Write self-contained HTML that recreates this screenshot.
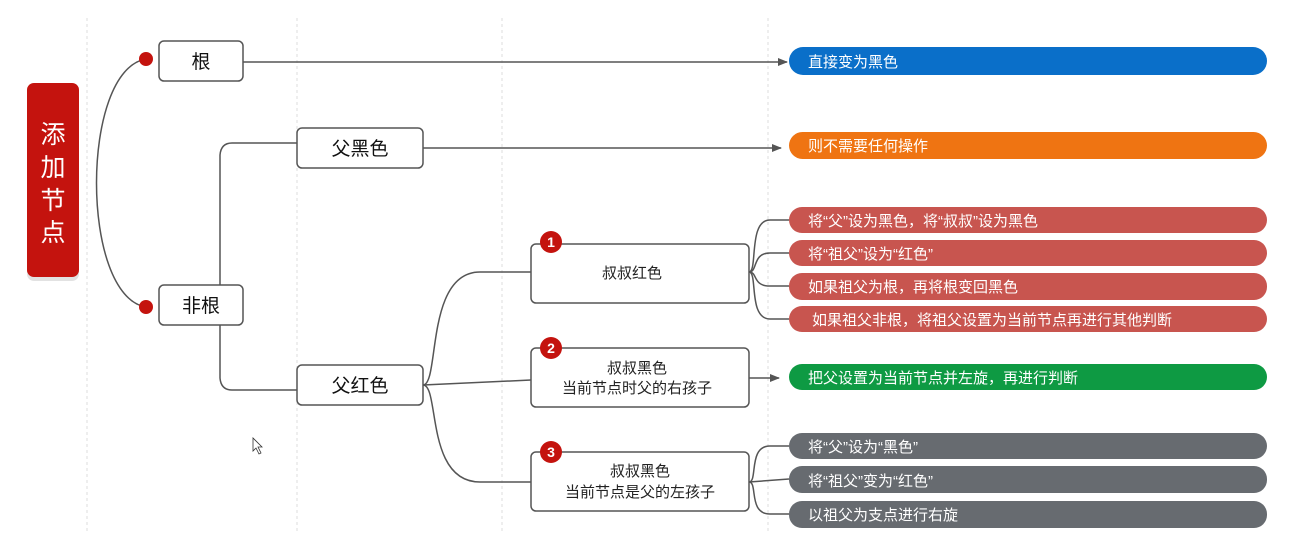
<!DOCTYPE html>
<html><head><meta charset="utf-8"><style>
html,body{margin:0;padding:0;background:#fff;}
svg{display:block;}
text{font-family:"Liberation Sans","Noto Sans CJK SC",sans-serif;}
</style></head><body>
<svg width="1310" height="533" viewBox="0 0 1310 533" xmlns="http://www.w3.org/2000/svg">
<defs>
<marker id="ar" markerWidth="10" markerHeight="8" refX="9" refY="4" orient="auto" markerUnits="userSpaceOnUse">
<path d="M0,0 L10,4 L0,8 Z" fill="#555"/></marker>
</defs>
<g stroke="#ddd" stroke-width="1" stroke-dasharray="3,3">
<line x1="87" y1="18" x2="87" y2="533"/>
<line x1="297" y1="18" x2="297" y2="533"/>
<line x1="502" y1="18" x2="502" y2="533"/>
<line x1="768" y1="18" x2="768" y2="533"/>
</g>
<!-- title -->
<rect x="27" y="87" width="52" height="194" rx="7" fill="#e2e2e2"/>
<rect x="27" y="83" width="52" height="194" rx="7" fill="#c4130e"/>
<g fill="#fff" font-size="25" text-anchor="middle">
<text x="53" y="143">添</text><text x="53" y="176">加</text><text x="53" y="209">节</text><text x="53" y="241">点</text>
</g>
<g fill="none" stroke="#555" stroke-width="1.5">
<path d="M146,59 C80,70 80,296 146,307"/>
<path d="M220,285 L220,155 Q221,143 232,143 L297,143"/>
<path d="M220,325 L220,378 Q221,390 232,390 L297,390"/>
<line x1="243" y1="62" x2="787" y2="62" marker-end="url(#ar)"/>
<line x1="423" y1="148" x2="781" y2="148" marker-end="url(#ar)"/>
<path d="M423,385 C440,385 425,272 480,272 L531,272"/>
<line x1="423" y1="385" x2="531" y2="380"/>
<path d="M423,385 C440,385 425,482 480,482 L531,482"/>
<line x1="749" y1="378" x2="779" y2="378" marker-end="url(#ar)"/>
<path d="M749,272 C758,272 748,220 770,220 L789,220"/>
<path d="M749,272 C758,272 752,253 770,253 L789,253"/>
<path d="M749,272 C758,272 752,286 770,286 L789,286"/>
<path d="M749,272 C758,272 748,319 770,319 L789,319"/>
<path d="M749,482 C758,482 748,446 770,446 L789,446"/>
<line x1="749" y1="482" x2="789" y2="479"/>
<path d="M749,482 C758,482 748,514 770,514 L789,514"/>
</g>
<circle cx="146" cy="59" r="7" fill="#c4130e"/>
<circle cx="146" cy="307" r="7" fill="#c4130e"/>
<g fill="#fff" stroke="#555" stroke-width="1.5">
<rect x="159" y="41" width="84" height="40" rx="5"/>
<rect x="159" y="285" width="84" height="40" rx="5"/>
<rect x="297" y="128" width="126" height="40" rx="5"/>
<rect x="297" y="365" width="126" height="40" rx="5"/>
<rect x="531" y="244" width="218" height="59" rx="5"/>
<rect x="531" y="348" width="218" height="59" rx="5"/>
<rect x="531" y="452" width="218" height="59" rx="5"/>
</g>
<g fill="#111" font-size="19" text-anchor="middle">
<text x="201" y="68">根</text>
<text x="201" y="312">非根</text>
<text x="360" y="155">父黑色</text>
<text x="360" y="392">父红色</text>
</g>
<g fill="#222" font-size="15" text-anchor="middle">
<text x="632" y="278">叔叔红色</text>
<text x="637" y="373">叔叔黑色</text>
<text x="637" y="393">当前节点时父的右孩子</text>
<text x="640" y="476">叔叔黑色</text>
<text x="640" y="497">当前节点是父的左孩子</text>
</g>
<g font-size="14" font-weight="bold" fill="#fff" text-anchor="middle">
<circle cx="551" cy="242" r="11" fill="#c4130e"/><text x="551" y="247">1</text>
<circle cx="551" cy="348" r="11" fill="#c4130e"/><text x="551" y="353">2</text>
<circle cx="551" cy="452" r="11" fill="#c4130e"/><text x="551" y="457">3</text>
</g>
<rect x="789" y="47" width="478" height="28" rx="14" fill="#0a6fc9"/>
<rect x="789" y="132" width="478" height="27" rx="13.5" fill="#ef7412"/>
<rect x="789" y="207" width="478" height="26" rx="13" fill="#c8554f"/>
<rect x="789" y="240" width="478" height="26" rx="13" fill="#c8554f"/>
<rect x="789" y="273" width="478" height="27" rx="13" fill="#c8554f"/>
<rect x="789" y="306" width="478" height="26" rx="13" fill="#c8554f"/>
<rect x="789" y="364" width="478" height="26" rx="13" fill="#0e9a43"/>
<rect x="789" y="433" width="478" height="26" rx="13" fill="#676b70"/>
<rect x="789" y="466" width="478" height="27" rx="13" fill="#676b70"/>
<rect x="789" y="501" width="478" height="27" rx="13" fill="#676b70"/>
<g fill="#fff" font-size="15">
<text x="808" y="67">直接变为黑色</text>
<text x="808" y="151">则不需要任何操作</text>
<text x="808" y="226">将“父”设为黑色，将“叔叔”设为黑色</text>
<text x="808" y="259">将“祖父”设为“红色”</text>
<text x="808" y="292">如果祖父为根，再将根变回黑色</text>
<text x="812" y="325">如果祖父非根，将祖父设置为当前节点再进行其他判断</text>
<text x="808" y="383">把父设置为当前节点并左旋，再进行判断</text>
<text x="808" y="452">将“父”设为“黑色”</text>
<text x="808" y="486">将“祖父”变为“红色”</text>
<text x="808" y="520">以祖父为支点进行右旋</text>
</g>
<path d="M253,438 L253,451 L256,448 L259,454 L261,453 L258,447 L262,447 Z" fill="#fff" stroke="#333" stroke-width="0.8"/>
</svg>
</body></html>
